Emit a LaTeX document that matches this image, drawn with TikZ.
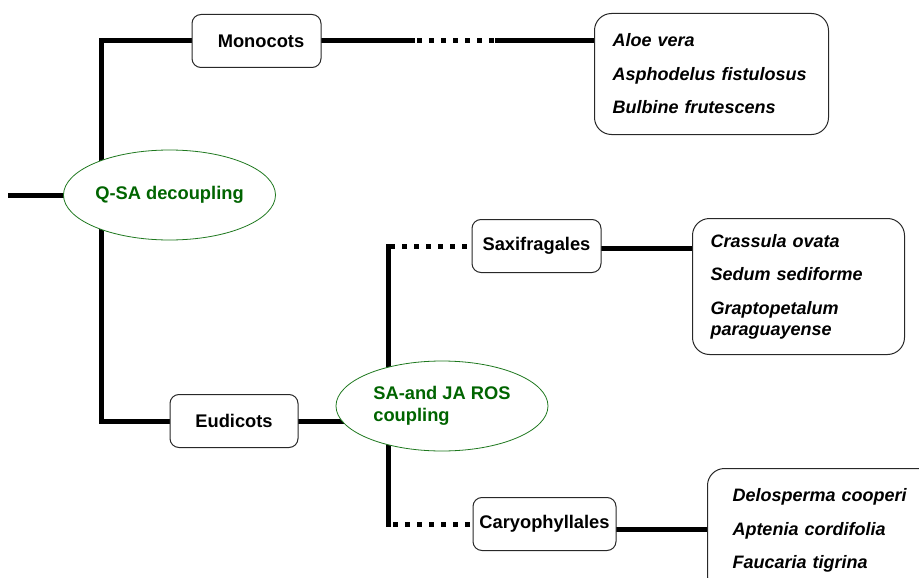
\documentclass[tikz,border=0pt]{standalone}
\usepackage{fontspec}
\setmainfont{Liberation Sans}
\usetikzlibrary{shapes.geometric,backgrounds}
\definecolor{grn}{RGB}{0,100,0}
\definecolor{grnedge}{RGB}{30,120,30}
\definecolor{boxedge}{RGB}{40,40,40}
\begin{document}
\begin{tikzpicture}[x=1pt,y=-1pt,
  font=\fontsize{18.3}{22}\selectfont\bfseries,
  taxon/.style={draw=boxedge,line width=1pt,rounded corners=9pt,fill=white,
    minimum height=53pt,inner sep=2pt},
  species/.style={draw=boxedge,line width=1pt,rounded corners=17pt,fill=white,
    anchor=north west,align=left,inner xsep=18pt,
    font=\fontsize{18}{33.5}\selectfont\bfseries\itshape},
  event/.style={ellipse,draw=grnedge,line width=0.8pt,fill=white,text=grn,
    minimum width=212pt,minimum height=90pt,inner sep=0pt,align=left},
  branch/.style={line width=5pt,line cap=rect},
  dotbranch/.style={line width=5pt,dash pattern=on 5pt off 7pt,dash phase=7pt}]
\clip (0,0) rectangle (919,578);
% nodes
\node[event] (qsa) at (169.5,195) {Q-SA decoupling};
\node[event] (sa) at (442,406) {SA-and JA ROS\\coupling};
\node[taxon,minimum width=129pt] (mono) at (256.5,41) {\hspace{9pt}Monocots};
\node[taxon,minimum width=128pt] (eud) at (234,421) {Eudicots\hspace{16pt}};
\node[taxon,minimum width=129pt] (sax) at (536.5,246) {Saxifragales};
\node[taxon,minimum width=143pt,inner sep=1pt] (caryo) at (544.5,524) {Caryophyllales};
\node[species,text width=198pt,minimum height=121pt] (aloe) at (594,13)
  {Aloe vera\\Asphodelus fistulosus\\Bulbine frutescens};
\node[species,text width=176pt,minimum height=136pt] (cras) at (692,218)
  {Crassula ovata\\Sedum sediforme\\Graptopetalum\\[-12.5pt]paraguayense};
\node[species,text width=185pt,inner xsep=25pt,minimum height=124pt] (del) at (707,468)
  {Delosperma cooperi\\Aptenia cordifolia\\Faucaria tigrina};
\coordinate (root) at (10,195);
\coordinate (j1) at (101,195);
\coordinate (j2) at (388,400);
\coordinate (m1) at (412,41);
\coordinate (m2) at (497,41);
% connectors
\begin{pgfonlayer}{background}
\draw[branch] (root) -- (qsa.center);
\draw[line width=5pt] (mono.west) -| (j1) |- (eud.west);
\draw[branch] (mono.east) -- (m1);
\draw[dotbranch] (m1) -- (m2);
\draw[branch] (m2) -- (m2 -| aloe.west);
\draw[branch] (eud.east) -- (eud.east -| sa.center);
\draw[dotbranch] (sax.west) -- (j2 |- sax.west);
\draw[branch] (j2 |- sax.west) -- (j2 |- caryo.west);
\draw[dotbranch] (j2 |- caryo.west) -- (caryo.west);
\draw[branch] ([yshift=-2pt]sax.east) -- ([yshift=-2pt]sax.east -| cras.west);
\draw[branch] ([yshift=-5pt]caryo.east) -- ([yshift=-5pt]caryo.east -| del.west);
\end{pgfonlayer}
\end{tikzpicture}
\end{document}
